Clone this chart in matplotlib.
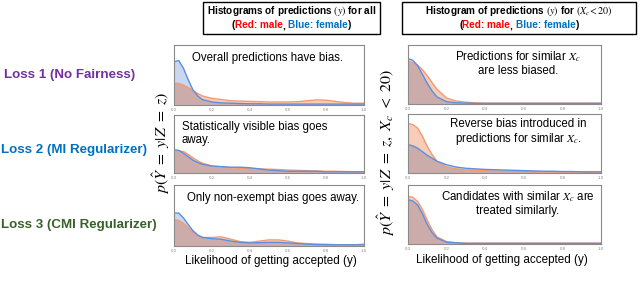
import matplotlib
matplotlib.use("Agg")
import matplotlib.pyplot as plt
import numpy as np
from matplotlib.offsetbox import TextArea, HPacker, AnnotationBbox
from matplotlib.patches import Rectangle

plt.rcParams['font.family'] = ['Liberation Sans', 'DejaVu Sans']
plt.rcParams['mathtext.fontset'] = 'stix'

# ---------------- data ----------------
xs = [0, .025, .05, .075, .1, .125, .15, .2, .25, .3, .35, .4, .45, .5,
      .55, .6, .65, .7, .75, .8, .85, .9, .95, 1.0]

# left column: all candidates
all_l1_female = [0.72, 0.74, 0.61, 0.42, 0.25, 0.15, 0.09, 0.05, 0.035, 0.03, 0.025, 0.02, 0.02, 0.015,
                 0.015, 0.015, 0.015, 0.015, 0.015, 0.015, 0.015, 0.015, 0.015, 0.015]
all_l1_male = [0.36, 0.36, 0.33, 0.29, 0.24, 0.19, 0.15, 0.11, 0.09, 0.07, 0.065, 0.06, 0.055, 0.05,
               0.05, 0.05, 0.055, 0.07, 0.085, 0.08, 0.06, 0.04, 0.03, 0.03]
all_l2_female = [0.40, 0.39, 0.34, 0.28, 0.22, 0.18, 0.15, 0.12, 0.11, 0.10, 0.10, 0.09, 0.07, 0.05,
                 0.04, 0.03, 0.03, 0.03, 0.03, 0.02, 0.02, 0.02, 0.02, 0.02]
all_l2_male = [0.36, 0.38, 0.37, 0.32, 0.26, 0.21, 0.17, 0.12, 0.10, 0.09, 0.08, 0.075, 0.07, 0.065,
               0.06, 0.05, 0.045, 0.04, 0.035, 0.03, 0.03, 0.025, 0.02, 0.02]
all_l3_female = [0.54, 0.54, 0.46, 0.35, 0.25, 0.18, 0.14, 0.12, 0.11, 0.08, 0.06, 0.05, 0.055, 0.06,
                 0.06, 0.05, 0.04, 0.03, 0.025, 0.02, 0.02, 0.02, 0.02, 0.02]
all_l3_male = [0.43, 0.42, 0.37, 0.30, 0.23, 0.17, 0.14, 0.14, 0.15, 0.11, 0.07, 0.06, 0.08, 0.10,
               0.10, 0.08, 0.05, 0.04, 0.03, 0.03, 0.02, 0.02, 0.02, 0.03]

# right column: X_c < 20
sub_l1_female = [0.77, 0.74, 0.65, 0.50, 0.35, 0.22, 0.12, 0.04, 0.02, 0.015, 0.01, 0.01, 0.01, 0.01,
                 0.01, 0.01, 0.01, 0.01, 0.01, 0.01, 0.01, 0.01, 0.01, 0.01]
sub_l1_male = [0.72, 0.70, 0.66, 0.58, 0.48, 0.36, 0.25, 0.10, 0.05, 0.03, 0.02, 0.015, 0.015, 0.015,
               0.015, 0.015, 0.015, 0.015, 0.015, 0.015, 0.015, 0.015, 0.015, 0.015]
sub_l2_female = [0.48, 0.46, 0.42, 0.36, 0.30, 0.25, 0.20, 0.14, 0.10, 0.08, 0.07, 0.06, 0.055, 0.05,
                 0.045, 0.04, 0.035, 0.03, 0.03, 0.025, 0.025, 0.02, 0.02, 0.02]
sub_l2_male = [0.84, 0.82, 0.76, 0.62, 0.45, 0.31, 0.20, 0.10, 0.07, 0.05, 0.045, 0.04, 0.035, 0.03,
               0.03, 0.025, 0.025, 0.02, 0.02, 0.02, 0.015, 0.015, 0.01, 0.01]
sub_l3_female = [0.75, 0.73, 0.66, 0.51, 0.33, 0.19, 0.10, 0.03, 0.02, 0.01, 0.01, 0.01, 0.01, 0.01,
                 0.01, 0.01, 0.01, 0.01, 0.01, 0.01, 0.01, 0.01, 0.01, 0.01]
sub_l3_male = [0.81, 0.79, 0.72, 0.58, 0.40, 0.24, 0.12, 0.04, 0.02, 0.015, 0.015, 0.015, 0.015, 0.015,
               0.015, 0.015, 0.015, 0.015, 0.015, 0.015, 0.015, 0.015, 0.015, 0.015]

row_labels = ["Loss 1 (No Fairness)", "Loss 2 (MI Regularizer)", "Loss 3 (CMI Regularizer)"]
row_colors = ["#7030a0", "#0070c0", "#38612a"]

left_notes = ["Overall predictions have bias.",
              "Statistically visible bias goes\naway.",
              "Only non-exempt bias goes away."]
right_notes = ["Predictions for similar $X_c$\nare less biased.",
               "Reverse bias introduced in\npredictions for similar $X_c$.",
               "Candidates with similar $X_c$ are\ntreated similarly."]

xticks = [0.0, 0.2, 0.4, 0.6, 0.8, 1.0]
xticklabels = ["0.0", "0.2", "0.4", "0.6", "0.8", "1.0"]

# ---------------- figure ----------------
W, H = 640, 288
fig = plt.figure(figsize=(W / 100, H / 100), dpi=100)


def px_axes(x0, y0, x1, y1):
    return fig.add_axes([x0 / W, 1 - y1 / H, (x1 - x0) / W, (y1 - y0) / H])


BLUE_LINE = "#5b8ee0"
ORANGE_LINE = "#f09a72"
BLUE_FILL = "#c9d7f0"
ORANGE_FILL = "#f7cdb9"
OVER_FILL = "#cbacab"


def draw_panel(ax, female, male):
    x = np.array(xs)
    f = np.array(female)
    m = np.array(male)
    lo = np.minimum(f, m)
    ax.fill_between(x, 0, f, color=BLUE_FILL, lw=0)
    ax.fill_between(x, 0, m, color=ORANGE_FILL, lw=0)
    ax.fill_between(x, 0, lo, color=OVER_FILL, lw=0)
    ax.plot(x, m, color=ORANGE_LINE, lw=1.0)
    ax.plot(x, f, color=BLUE_LINE, lw=1.0)
    ax.set_xlim(0, 1)
    ax.set_ylim(0, 1)
    ax.set_yticks([])
    ax.set_xticks(xticks)
    ax.set_xticklabels(xticklabels)
    ax.tick_params(axis='x', length=0, labelsize=3.2, labelcolor="#888888", pad=2)
    for s in ax.spines.values():
        s.set_color("#8a8a8a")
        s.set_linewidth(0.8)


left_rows = [(45, 105), (115, 173), (185, 246)]
right_rows = [(45, 104), (114, 173), (185, 244)]
left_data = [(all_l1_female, all_l1_male), (all_l2_female, all_l2_male), (all_l3_female, all_l3_male)]
right_data = [(sub_l1_female, sub_l1_male), (sub_l2_female, sub_l2_male), (sub_l3_female, sub_l3_male)]

note_fs = 8.3
for i in range(3):
    ax = px_axes(174, left_rows[i][0], 364, left_rows[i][1])
    draw_panel(ax, *left_data[i])
    if i == 0:
        ax.text(0.49, 0.78, left_notes[i], transform=ax.transAxes, ha='center', va='center', fontsize=note_fs)
    elif i == 1:
        ax.text(0.04, 0.68, left_notes[i], transform=ax.transAxes, ha='left', va='center', fontsize=note_fs,
                linespacing=1.1)
    else:
        ax.text(0.52, 0.78, left_notes[i], transform=ax.transAxes, ha='center', va='center', fontsize=note_fs)

    ax = px_axes(408, right_rows[i][0], 601, right_rows[i][1])
    draw_panel(ax, *right_data[i])
    ax.text(0.57, 0.69, right_notes[i], transform=ax.transAxes, ha='center', va='center', fontsize=note_fs,
            linespacing=1.1)

# row labels
row_y = [75, 150, 225]
row_x = [70, 74, 79]
for lab, col, y, x in zip(row_labels, row_colors, row_y, row_x):
    fig.text(x / W, 1 - y / H, lab, color=col, fontsize=9.6, fontweight='bold', ha='center', va='center')

# y labels
fig.text(161 / W, 1 - 143 / H, r'$p(\hat{Y}\ =\ y|Z\ =\ z)$', rotation=90, ha='center', va='center',
         fontsize=11.5)
fig.text(386 / W, 1 - 153 / H, r'$p(\hat{Y}\ =\ y|Z\ =\ z,\ X_c\ <\ 20)$', rotation=90, ha='center',
         va='center', fontsize=11.5)

# x labels
fig.text(271 / W, 1 - 261 / H, "Likelihood of getting accepted (y)", ha='center', va='center', fontsize=8.4)
fig.text(502 / W, 1 - 260 / H, "Likelihood of getting accepted (y)", ha='center', va='center', fontsize=8.4)

# headers
hdr_font = ['Liberation Sans', 'DejaVu Sans']
hdr_fs = 7.2

headers = [("Histograms of predictions $(y)$ for all", 203, 380),
           ("Histogram of predictions $(y)$ for $(X_c\\!<20)$", 402, 636)]
for txt, x0, x1 in headers:
    fig.patches.append(Rectangle((x0 / W, 1 - 34 / H), (x1 - x0) / W, 32 / H, transform=fig.transFigure,
                                 fill=False, edgecolor='black', lw=1.0))
    cx = (x0 + x1) / 2
    fig.text(cx / W, 1 - 11 / H, txt, ha='center', va='center', fontsize=hdr_fs, fontweight='bold',
             family=hdr_font)
    parts = [("(", "black"), ("Red: male", "#ff0000"), (", ", "black"), ("Blue: female", "#0070c0"), (")", "black")]
    areas = [TextArea(p, textprops=dict(color=c, fontsize=hdr_fs, fontweight='bold', family=hdr_font))
             for p, c in parts]
    pack = HPacker(children=areas, align='baseline', pad=0, sep=0)
    ab = AnnotationBbox(pack, (cx / W, 1 - 25 / H), xycoords='figure fraction', frameon=False,
                        box_alignment=(0.5, 0.5), pad=0)
    fig.add_artist(ab)

fig.savefig("out.png", dpi=100)
